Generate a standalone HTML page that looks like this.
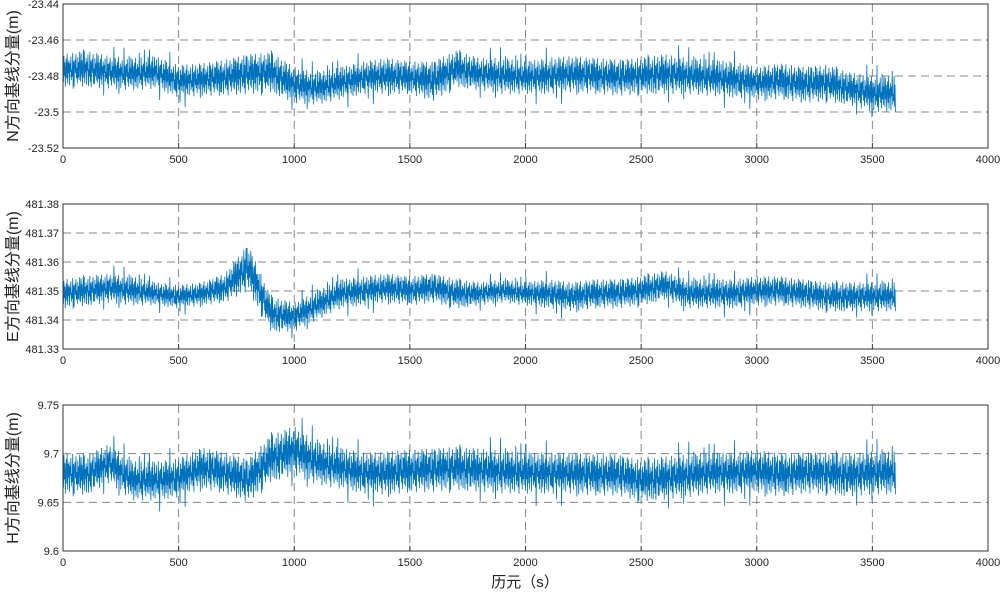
<!DOCTYPE html>
<html><head><meta charset="utf-8"><style>
body{margin:0;background:#fff}
svg{display:block}
text{font-family:"Liberation Sans","Noto Sans CJK SC",sans-serif}
</style></head><body>
<svg id="chart" width="1003" height="596"></svg>
<script>
const xTicks=[0,500,1000,1500,2000,2500,3000,3500,4000];
const bucketSec=100;
const nMean=[-23.477,-23.476,-23.478,-23.479,-23.478,-23.483,-23.482,-23.481,-23.479,-23.478,-23.485,-23.487,-23.484,-23.481,-23.480,-23.481,-23.483,-23.476,-23.479,-23.480,-23.481,-23.480,-23.479,-23.480,-23.481,-23.480,-23.479,-23.480,-23.481,-23.482,-23.484,-23.483,-23.485,-23.484,-23.487,-23.490];
const nAmp=[0.009,0.010,0.009,0.009,0.009,0.009,0.009,0.010,0.011,0.011,0.010,0.009,0.009,0.009,0.010,0.009,0.011,0.010,0.009,0.010,0.009,0.010,0.010,0.010,0.010,0.010,0.011,0.010,0.010,0.010,0.009,0.010,0.010,0.010,0.009,0.010];
const eMean=[481.349,481.350,481.351,481.350,481.349,481.348,481.349,481.351,481.358,481.342,481.341,481.345,481.349,481.350,481.351,481.350,481.351,481.349,481.349,481.350,481.349,481.349,481.348,481.349,481.349,481.350,481.352,481.349,481.349,481.349,481.350,481.350,481.349,481.348,481.348,481.348];
const eAmp=[0.005,0.005,0.005,0.005,0.004,0.004,0.004,0.005,0.008,0.006,0.005,0.005,0.005,0.005,0.005,0.005,0.005,0.005,0.004,0.004,0.004,0.005,0.005,0.005,0.005,0.005,0.005,0.005,0.005,0.005,0.005,0.005,0.005,0.005,0.005,0.005];
const hMean=[9.680,9.678,9.690,9.672,9.672,9.675,9.685,9.680,9.672,9.695,9.703,9.690,9.685,9.680,9.680,9.682,9.683,9.685,9.683,9.681,9.680,9.680,9.680,9.678,9.678,9.672,9.675,9.677,9.680,9.680,9.682,9.678,9.680,9.680,9.678,9.680];
const hAmp=[0.021,0.020,0.020,0.020,0.020,0.020,0.021,0.021,0.022,0.024,0.025,0.022,0.021,0.021,0.022,0.022,0.022,0.022,0.022,0.022,0.021,0.021,0.021,0.021,0.021,0.021,0.022,0.022,0.021,0.021,0.022,0.022,0.021,0.021,0.022,0.022];
const nTicks=[-23.44,-23.46,-23.48,-23.5,-23.52];
const eTicks=[481.38,481.37,481.36,481.35,481.34,481.33];
const hTicks=[9.75,9.7,9.65,9.6];
const wiggle=[0.2,-0.7,0.9,-0.3,0.5,-1.0,0.1,0.7,-0.5,1.0,-0.8,0.3,-0.2,0.6,-0.9,0.4,-0.1,0.8,-0.6,0.0,-0.4,1.0,-0.7,0.5,-1.0,0.3,0.6,-0.2,0.9,-0.5,0.1,-0.8,0.7,-0.3,0.4,-0.6,1.0];

const svg=document.getElementById('chart');
const NS='http://www.w3.org/2000/svg';
function mk(tag,attrs,parent){const e=document.createElementNS(NS,tag);for(const k in attrs)e.setAttribute(k,attrs[k]);(parent||svg).appendChild(e);return e;}
const X0=63,X1=988,XMAX=4000;
const xs=v=>X0+(v/XMAX)*(X1-X0);
const panels=[
 {name:'n',top:4,bot:148,ticks:nTicks,mean:nMean,amp:nAmp,label:'N方向基线分量(m)',grid:[-23.46,-23.48,-23.5]},
 {name:'e',top:204,bot:349,ticks:eTicks,mean:eMean,amp:eAmp,label:'E方向基线分量(m)',grid:[481.37,481.36,481.35,481.34]},
 {name:'h',top:405,bot:551,ticks:hTicks,mean:hMean,amp:hAmp,label:'H方向基线分量(m)',grid:[9.7,9.65]}
];
panels.forEach(p=>{
 const ymax=Math.max(...p.ticks),ymin=Math.min(...p.ticks);
 const ys=v=>p.bot-(v-ymin)/(ymax-ymin)*(p.bot-p.top);
 const g=mk('g',{});
 
 
 xTicks.slice(1,-1).forEach(t=>{const l=mk('line',{x1:xs(t),x2:xs(t),y1:p.top,y2:p.bot,stroke:'#888','stroke-dasharray':'8,5','stroke-width':1},g);
  });
 p.grid.forEach(t=>{const l=mk('line',{x1:X0,x2:X1,y1:ys(t),y2:ys(t),stroke:'#888','stroke-dasharray':'8,5','stroke-width':1},g);
  });
 let pts=[];
 for(let i=0;i<=1800;i++){
  const t=i*2;const b=t/bucketSec;const k=Math.min(Math.floor(b),p.mean.length-1);const k2=Math.min(k+1,p.mean.length-1);const f=Math.min(b-k,1);
  const m=p.mean[k]*(1-f)+p.mean[k2]*f;const a=p.amp[k]*(1-f)+p.amp[k2]*f;
  const w=wiggle[i%wiggle.length]*(i%11===0?1.6:1);
  pts.push(xs(t).toFixed(2)+','+ys(m+a*w).toFixed(2));
 }
 const pl=mk('polyline',{points:pts.join(' '),fill:'none',stroke:'#0072BD','stroke-width':0.8},g);
 
 const fr=mk('rect',{x:X0,y:p.top,width:X1-X0,height:p.bot-p.top,fill:'none',stroke:'#333','stroke-width':1},g);
 
 xTicks.forEach(t=>{
  mk('line',{x1:xs(t),x2:xs(t),y1:p.bot,y2:p.bot-5,stroke:'#333'},g);
  const tx=mk('text',{x:xs(t),y:p.bot+15,'text-anchor':'middle','font-size':11,fill:'#222'},g);tx.textContent=t;
  
 });
 p.ticks.forEach(t=>{
  const ty=mk('text',{x:X0-4,y:ys(t)+4,'text-anchor':'end','font-size':11,fill:'#222'},g);ty.textContent=t;
  
 });
 const yl=mk('text',{x:0,y:0,transform:`translate(18,${(p.top+p.bot)/2}) rotate(-90)`,'text-anchor':'middle','font-size':16,fill:'#222'},g);
 yl.textContent=p.label;
 
});
const xl=mk('text',{x:525,y:587,'text-anchor':'middle','font-size':15,fill:'#222'});
xl.textContent='历元（s）';


</script>
</body></html>
